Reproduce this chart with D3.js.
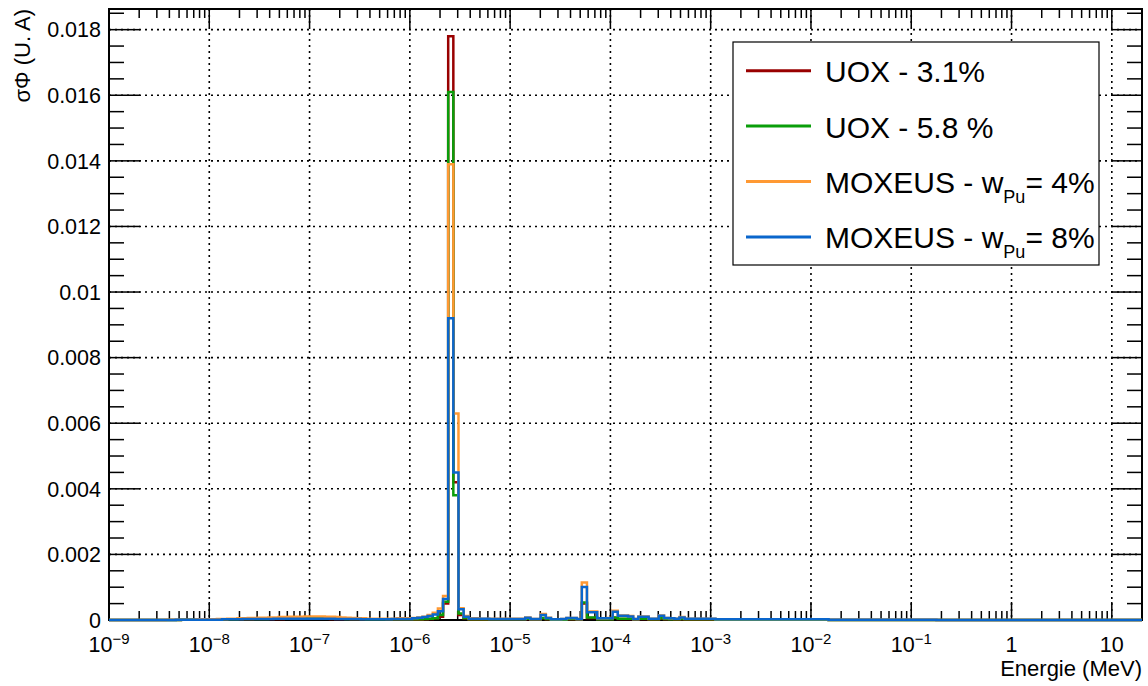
<!DOCTYPE html>
<html>
<head>
<meta charset="utf-8">
<script src="https://cdn.jsdelivr.net/npm/d3@7"></script>
<style>
  body { margin: 0; background: #fff; }
  svg { display: block; }
  text { font-family: "Liberation Sans", Arial, Helvetica, sans-serif; fill: #000; }
</style>
</head>
<body>
<svg id="chart" width="1148" height="686"></svg>
<script>
// ---------------- DATA ----------------
// Energy binning (MeV): logarithmic bins
const E_MIN = 1e-9;
const E_MAX = 20;
const N_BINS = 201;

// Bin contents, in units of 1e-5 (σΦ, U.A), one value per energy bin (201 bins)
const VALUE_UNIT = 1e-5;

const uox31 = [
  0,0,0,0,0,0,0,0,0,0,
  0,0,0,0,1,1,1,1,1,1,
  1,1,1,2,2,2,2,2,3,3,
  3,3,3,3,4,4,4,4,4,4,
  4,4,4,3,3,3,3,2,2,2,
  2,2,2,2,1,1,1,1,1,1,
  1,2,3,5,10,50,1780,420,15,5,
  1,1,1,1,1,1,1,1,1,1,
  1,3,1,1,5,2,1,1,1,2,
  2,1,50,6,6,2,2,2,7,3,
  3,3,1,3,3,1,1,4,2,2,
  1,2,1,1,1,1,1,1,1,1,
  1,1,1,1,1,1,1,1,1,1,
  1,1,1,1,1,1,1,1,1,1,
  0,0,0,0,0,0,0,0,0,0,
  0,0,0,0,0,0,0,0,0,0,
  0,0,0,0,0,0,0,0,0,0,
  0,0,0,0,0,0,0,0,0,0,
  0,0,0,0,0,0,0,0,0,0,
  0,0,0,0,0,0,0,0,0,0,
  0
];

const uox58 = [
  0,0,0,0,0,0,0,0,0,0,
  0,0,0,0,1,1,1,1,1,1,
  1,1,2,2,2,3,3,3,3,3,
  3,4,4,4,4,5,5,5,5,5,
  5,5,5,4,4,4,3,3,3,3,
  2,2,2,2,2,2,2,2,2,2,
  2,3,4,5,15,56,1610,380,20,6,
  2,2,2,2,2,2,2,2,2,2,
  2,4,2,2,6,3,1,1,1,3,
  3,2,53,8,8,2,2,2,8,4,
  4,4,2,4,4,2,2,5,3,2,
  2,3,2,2,2,2,2,2,1,1,
  1,1,1,1,1,1,1,1,1,1,
  1,1,1,1,1,1,1,1,1,1,
  0,0,0,0,0,0,0,0,0,0,
  0,0,0,0,0,0,0,0,0,0,
  0,0,0,0,0,0,0,0,0,0,
  0,0,0,0,0,0,0,0,0,0,
  0,0,0,0,0,0,0,0,0,0,
  0,0,0,0,0,0,0,0,0,0,
  0
];

const moxWpu4 = [
  0,0,0,0,0,0,0,0,0,0,
  0,1,1,1,1,1,1,2,2,2,
  2,3,3,4,4,5,5,6,6,7,
  7,8,8,9,9,10,10,10,11,11,
  11,11,10,10,9,8,7,6,5,5,
  4,4,4,4,4,4,5,5,5,6,
  8,10,15,22,35,73,1390,630,36,12,
  5,5,4,4,4,4,4,4,4,4,
  4,8,3,3,18,7,2,2,3,6,
  6,3,114,26,26,5,5,6,28,14,
  14,12,3,11,11,4,4,14,6,5,
  4,9,4,4,4,4,4,4,2,2,
  2,2,2,2,2,2,2,2,2,2,
  2,2,2,2,2,2,2,2,2,2,
  1,1,1,1,1,1,1,1,1,1,
  1,1,1,1,1,1,1,1,1,1,
  1,0,0,0,0,0,0,0,0,0,
  0,0,0,0,0,0,0,0,0,0,
  0,0,0,0,0,0,0,0,0,0,
  0,0,0,0,0,0,0,0,0,0,
  0
];

const moxWpu8 = [
  0,0,0,0,0,0,0,0,0,0,
  0,0,0,1,1,1,1,1,1,1,
  1,1,2,2,2,2,3,3,3,3,
  3,3,4,4,4,4,4,4,4,4,
  4,4,4,4,3,3,3,3,3,2,
  2,2,2,2,2,3,3,3,3,5,
  7,9,12,17,27,64,920,450,33,10,
  4,4,4,4,3,3,3,3,3,3,
  3,7,3,3,15,6,2,2,3,6,
  6,3,101,24,24,5,5,5,25,13,
  13,11,3,10,10,4,4,13,6,5,
  4,8,4,4,4,4,4,4,2,2,
  2,2,2,2,2,2,2,2,2,2,
  2,2,2,2,2,2,2,2,2,2,
  1,1,1,1,1,1,1,1,1,1,
  1,1,1,1,1,1,1,1,1,1,
  1,0,0,0,0,0,0,0,0,0,
  0,0,0,0,0,0,0,0,0,0,
  0,0,0,0,0,0,0,0,0,0,
  0,0,0,0,0,0,0,0,0,0,
  0
];

const seriesNames = ["UOX - 3.1%", "UOX - 5.8 %", "MOXEUS - w_Pu= 4%", "MOXEUS - w_Pu= 8%"];
const seriesColors = ["#990000", "#0a9e0a", "#ff9933", "#0a66cc"];
const seriesValues = [uox31, uox58, moxWpu4, moxWpu8];

const yTickValues = [0, 0.002, 0.004, 0.006, 0.008, 0.01, 0.012, 0.014, 0.016, 0.018];
const yTickLabels = ["0", "0.002", "0.004", "0.006", "0.008", "0.01", "0.012", "0.014", "0.016", "0.018"];
const xMajorExponents = [-9, -8, -7, -6, -5, -4, -3, -2, -1, 0, 1];
const xMinorMultipliers = [2, 3, 4, 5, 6, 7, 8, 9];
const xAxisTitle = "Energie (MeV)";
const yAxisTitle = "σΦ (U. A)";
const Y_MAX = 0.01863;

// ---------------- LAYOUT ----------------
const frame = { left: 109, right: 1142, top: 9, bottom: 620 };
const svg = d3.select("#chart");

const x = d3.scaleLog().domain([E_MIN, E_MAX]).range([frame.left, frame.right]);
const y = d3.scaleLinear().domain([0, Y_MAX]).range([frame.bottom, frame.top]);

const binEdges = d3.range(N_BINS + 1).map(i => E_MIN * Math.pow(E_MAX / E_MIN, i / N_BINS));

// ---------------- GRID ----------------
const grid = svg.append("g");
const xMajors = xMajorExponents.map(e => Math.pow(10, e));
grid.selectAll("line.gx").data(xMajors.filter(v => v > E_MIN)).join("line")
  .attr("x1", d => x(d)).attr("x2", d => x(d))
  .attr("y1", frame.top).attr("y2", frame.bottom)
  .attr("stroke", "#000").attr("stroke-width", 1.6).attr("stroke-dasharray", "2,4");
grid.selectAll("line.gy").data(yTickValues.filter(v => v > 0)).join("line")
  .attr("x1", frame.left).attr("x2", frame.right)
  .attr("y1", d => y(d)).attr("y2", d => y(d))
  .attr("stroke", "#000").attr("stroke-width", 1.6).attr("stroke-dasharray", "2,4");

// ---------------- AXES / TICKS ----------------
const axes = svg.append("g");
const xTicks = [];
xMajorExponents.forEach(e => {
  xTicks.push({ v: Math.pow(10, e), major: true });
  xMinorMultipliers.forEach(m => xTicks.push({ v: m * Math.pow(10, e), major: false }));
});
const xMajLen = 18, xMinLen = 9, yMajLen = 31, yMinLen = 15;

xTicks.filter(t => t.v >= E_MIN && t.v <= E_MAX).forEach(t => {
  const len = t.major ? xMajLen : xMinLen;
  const px = x(t.v);
  axes.append("line").attr("x1", px).attr("x2", px).attr("y1", frame.bottom).attr("y2", frame.bottom - len)
    .attr("stroke", "#000").attr("stroke-width", 1.5);
  axes.append("line").attr("x1", px).attr("x2", px).attr("y1", frame.top).attr("y2", frame.top + len)
    .attr("stroke", "#000").attr("stroke-width", 1.5);
});

const yMinorTicks = d3.range(0, Y_MAX, 0.0005);
yMinorTicks.forEach(v => {
  const major = yTickValues.some(t => Math.abs(t - v) < 1e-9);
  const len = major ? yMajLen : yMinLen;
  const py = y(v);
  axes.append("line").attr("x1", frame.left).attr("x2", frame.left + len).attr("y1", py).attr("y2", py)
    .attr("stroke", "#000").attr("stroke-width", 1.5);
  axes.append("line").attr("x1", frame.right).attr("x2", frame.right - len).attr("y1", py).attr("y2", py)
    .attr("stroke", "#000").attr("stroke-width", 1.5);
});

axes.append("rect")
  .attr("x", frame.left).attr("y", frame.top)
  .attr("width", frame.right - frame.left).attr("height", frame.bottom - frame.top)
  .attr("fill", "none").attr("stroke", "#000").attr("stroke-width", 2);

// Y tick labels
const labelSize = 21.5;
svg.append("g").selectAll("text").data(yTickValues).join("text")
  .attr("x", frame.left - 8)
  .attr("y", d => y(d) + labelSize * 0.36)
  .attr("text-anchor", "end")
  .attr("font-size", labelSize)
  .text((d, i) => yTickLabels[i]);

// X tick labels
const xl = svg.append("g");
xMajorExponents.forEach(e => {
  const t = xl.append("text")
    .attr("x", x(Math.pow(10, e)))
    .attr("y", 652)
    .attr("text-anchor", "middle")
    .attr("font-size", labelSize);
  if (e === 0) { t.text("1"); }
  else if (e === 1) { t.text("10"); }
  else {
    t.append("tspan").text("10");
    t.append("tspan").attr("dy", -8).attr("font-size", 15).text("−" + Math.abs(e));
  }
});

// Axis titles
svg.append("text")
  .attr("x", frame.right).attr("y", 676)
  .attr("text-anchor", "end").attr("font-size", 22)
  .text(xAxisTitle);
svg.append("text")
  .attr("transform", `translate(30, ${frame.top}) rotate(-90)`)
  .attr("text-anchor", "end").attr("font-size", 22)
  .text(yAxisTitle);

// ---------------- HISTOGRAMS ----------------
svg.append("clipPath").attr("id", "clipFrame")
  .append("rect").attr("x", frame.left).attr("y", 0)
  .attr("width", frame.right - frame.left).attr("height", frame.bottom + 3);

const histG = svg.append("g").attr("clip-path", "url(#clipFrame)");
const line = d3.line();
seriesValues.forEach((vals, s) => {
  const pts = [[x(binEdges[0]), y(0)]];
  vals.forEach((v, i) => {
    const val = v * VALUE_UNIT;
    pts.push([x(binEdges[i]), y(val)]);
    pts.push([x(binEdges[i + 1]), y(val)]);
  });
  pts.push([x(binEdges[N_BINS]), y(0)]);
  histG.append("path")
    .attr("d", line(pts))
    .attr("fill", "none")
    .attr("stroke", seriesColors[s])
    .attr("stroke-width", 2.5)
    .attr("stroke-linejoin", "miter");
});

// ---------------- LEGEND ----------------
const lg = svg.append("g");
lg.append("rect").attr("x", 733).attr("y", 42).attr("width", 366).attr("height", 223)
  .attr("fill", "#fff").attr("stroke", "#000").attr("stroke-width", 1.2);
seriesNames.forEach((name, i) => {
  const cy = 70.7 + i * 55.4;
  lg.append("line").attr("x1", 746).attr("x2", 811).attr("y1", cy).attr("y2", cy)
    .attr("stroke", seriesColors[i]).attr("stroke-width", 3);
  const t = lg.append("text").attr("x", 825).attr("y", cy + 11.5).attr("font-size", 30);
  if (name.includes("_")) {
    const [pre, rest] = name.split("_");
    const sub = rest.slice(0, 2);
    const post = rest.slice(2);
    t.append("tspan").text(pre);
    t.append("tspan").attr("dy", 10).attr("font-size", 18).text(sub);
    t.append("tspan").attr("dy", -10).text(post);
  } else {
    t.text(name);
  }
});
</script>
</body>
</html>
